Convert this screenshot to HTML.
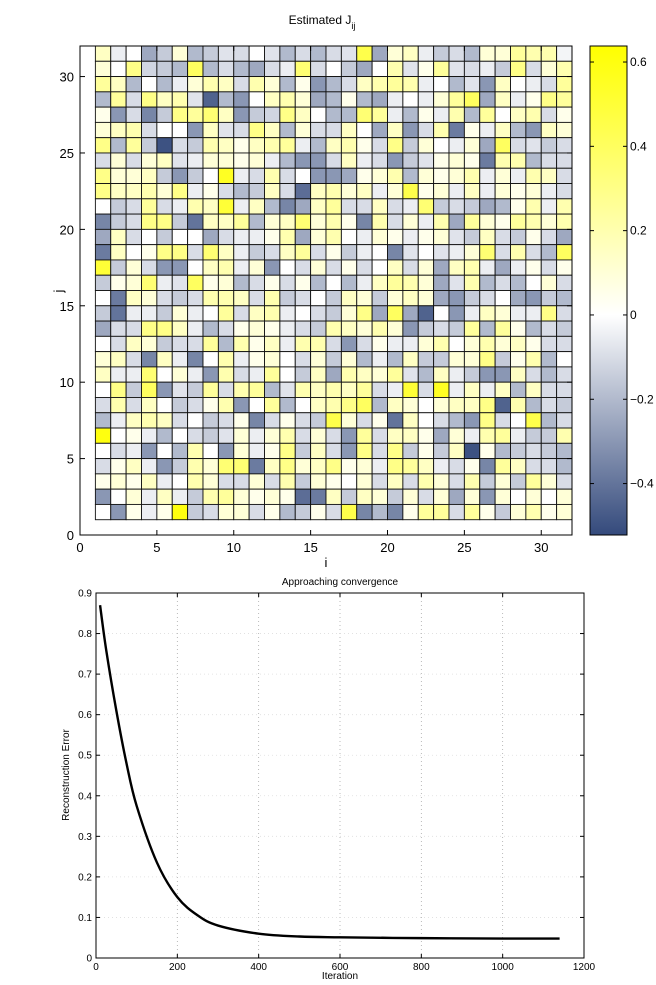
<!DOCTYPE html>
<html><head><meta charset="utf-8"><style>
html,body{margin:0;padding:0;background:#fff;}
svg{display:block;font-family:"Liberation Sans",sans-serif;}
</style></head><body>
<svg id="fig" width="656" height="985" viewBox="0 0 656 985" xmlns="http://www.w3.org/2000/svg">
<defs>
<linearGradient id="cbg" x1="0" y1="0" x2="0" y2="1">
<stop offset="0" stop-color="#ffff00"/>
<stop offset="0.55" stop-color="#ffffff"/>
<stop offset="1" stop-color="#344a7c"/>
</linearGradient>
</defs>
<g id="heat"></g>
<g id="line"></g>
</svg>
<script>
// Heatmap data: rows from j=31 (top) to j=1 (bottom), columns i=1..31
const heatRows = [
[.15,-.05,0,-.25,-.15,.1,-.2,-.15,-.08,-.1,0,-.08,-.2,-.1,-.2,-.1,-.08,.45,-.25,.1,.15,-.05,-.15,-.1,-.2,.1,.1,.25,.2,.2,-.03],
[.1,0,.3,-.12,-.15,-.2,.4,-.2,-.1,-.2,-.25,-.1,-.05,.35,-.1,0,-.15,-.25,0,.2,-.08,.05,.25,-.08,-.1,-.05,-.15,.3,-.1,.1,.2],
[.25,.15,-.2,0,-.2,-.05,.1,.2,.15,-.1,.2,.1,-.2,.05,-.3,-.2,-.1,.15,.2,.25,.2,-.05,0,-.2,-.08,-.3,.15,0,-.05,-.1,.25],
[-.2,.25,-.1,.3,.15,.2,-.08,-.45,-.2,-.3,0,.15,.2,.1,-.25,-.2,.05,-.2,-.25,-.05,0,-.05,.1,.25,.4,-.25,.15,-.05,.05,.3,.25],
[.05,-.3,-.1,-.35,-.15,.3,.25,.35,.15,-.3,-.15,-.12,.3,.15,0,-.2,-.2,.35,.25,-.05,-.2,.05,-.05,.2,-.2,.25,0,.15,.2,-.1,.05],
[.1,.15,.2,-.1,0,0,-.3,.15,-.08,-.1,.3,.15,-.2,.1,-.1,-.1,.15,0,-.25,.15,-.3,-.1,.2,-.38,.05,-.05,.15,-.2,-.3,.15,.1],
[.3,-.2,.25,-.15,-.5,-.1,-.15,.2,.15,.05,.15,.2,.25,-.05,-.2,.15,.2,.05,-.1,.3,-.15,.1,0,-.05,.1,-.25,.4,-.1,-.08,-.15,-.1],
[-.1,.1,-.1,.1,.15,-.08,-.05,.1,.1,.05,.1,-.05,-.2,-.3,-.3,-.1,.15,-.05,-.1,-.3,-.15,-.08,.05,.1,.05,-.38,.2,.2,-.2,-.1,-.1],
[.3,.1,.1,.15,-.15,-.3,-.15,0,.55,-.05,-.1,.2,-.1,0,-.3,-.3,-.25,.05,.1,.2,-.2,.1,.05,.1,.2,-.05,.1,-.05,.2,.15,-.1],
[.3,.15,.15,.2,.1,.3,-.05,.05,-.1,-.2,-.15,.15,-.1,-.42,.15,.2,.1,.15,-.05,.1,.45,.05,.1,-.05,.15,-.05,.1,.05,.1,-.05,-.1],
[0,-.15,-.1,.25,-.1,-.05,.2,.15,.5,-.05,.15,-.2,-.35,-.25,.15,.25,-.1,-.1,.15,-.1,-.05,.35,-.15,-.1,-.15,-.25,-.2,.05,.2,-.05,.2],
[-.35,-.15,-.1,.3,.3,-.15,-.4,.15,.15,.25,-.2,.1,.15,.35,.1,.2,.05,-.35,.2,-.1,.1,-.05,.2,-.25,.25,.1,.05,.25,.2,.1,.2],
[-.25,.15,-.1,0,-.15,0,0,-.25,-.1,-.05,-.05,.05,.2,-.25,.1,.2,0,-.05,.1,.05,-.05,.05,.1,-.08,-.15,.15,-.1,-.15,.05,-.1,-.25],
[-.38,.15,0,.05,.3,.3,-.1,.35,.15,-.05,-.15,-.1,.15,.25,-.1,.05,-.15,-.05,0,-.35,-.08,0,-.08,-.05,.1,.35,-.1,.2,-.1,-.2,.4],
[.5,-.15,.1,-.1,-.3,-.3,0,.15,.2,-.05,.1,-.3,0,-.1,.1,-.1,.05,-.1,0,.15,-.1,.1,-.25,.15,.2,-.05,-.25,-.05,.05,-.1,.05],
[-.15,.05,.1,.35,-.05,-.08,.4,.05,.1,-.2,-.1,.05,-.1,.05,-.2,0,-.2,-.05,.15,.25,.2,.1,-.25,-.08,.2,-.2,-.1,-.2,0,.1,-.1],
[0,-.38,.15,.1,-.1,-.15,-.1,.2,.2,.15,-.1,.2,-.15,-.1,0,-.15,.15,.1,-.15,.1,.15,.1,-.25,-.3,-.15,-.1,0,-.25,-.3,-.15,-.2],
[-.15,-.4,-.05,-.05,-.15,.1,-.05,0,.25,-.1,.15,.2,-.05,0,-.1,-.15,.1,.3,-.25,.4,-.25,-.45,0,-.3,-.05,.15,.1,-.05,-.05,.3,-.1],
[-.25,-.1,-.1,.3,.3,.15,-.05,-.2,-.1,.05,.1,.05,-.05,-.1,-.15,.2,.15,.1,.2,.1,-.3,-.15,-.1,-.15,.25,-.2,.25,.05,-.2,-.1,-.15],
[0,-.1,.15,.1,-.15,-.1,-.1,.25,-.2,.2,.05,.15,-.05,.2,.2,-.1,-.3,-.1,.05,-.05,-.05,.1,.2,0,.1,.2,.1,.15,.05,-.1,-.1],
[.1,.15,-.1,-.35,.15,-.05,-.35,0,.2,-.05,.05,.1,0,-.1,.1,-.15,.1,-.2,-.05,-.2,.15,-.15,-.15,.1,.1,.3,-.15,.05,.2,-.2,0],
[.15,-.05,-.05,.35,0,.1,-.05,-.3,.2,-.1,-.05,.25,0,-.15,.15,-.25,.2,.15,.1,.25,-.08,-.2,.15,-.05,-.15,-.3,-.3,.15,-.1,-.2,-.1],
[0,.3,-.15,.4,-.3,-.08,-.15,.25,-.1,.2,.25,-.2,-.08,.2,.15,.2,.15,.25,-.1,-.05,.5,-.1,.55,-.05,.15,-.05,.15,-.2,.15,-.1,-.1],
[-.1,.2,-.1,.15,0,-.15,-.1,.05,.2,-.3,0,.25,-.2,0,.15,.2,.3,.4,-.2,.15,.1,0,.1,.15,.15,.3,-.45,.2,-.2,-.1,-.15],
[-.2,-.05,.15,.2,.15,-.1,0,-.15,-.1,.05,-.35,-.1,.05,-.1,-.15,.45,.1,-.1,.05,-.4,.15,0,-.1,-.2,-.3,.3,-.1,0,.45,-.2,-.1],
[.6,0,.05,-.05,-.2,0,-.1,-.15,-.08,.1,-.05,.1,.2,-.1,.1,-.1,-.3,.25,-.1,.15,.15,.05,-.25,.1,-.05,.2,.25,-.05,-.15,-.15,.2],
[0,-.1,-.05,-.3,0,-.2,.2,0,-.3,.1,-.05,.05,.3,-.15,.15,-.1,-.3,.3,-.1,.3,-.15,.05,-.15,.15,-.5,.05,-.2,-.15,-.1,-.15,-.2],
[-.1,.05,.15,-.05,-.3,-.15,.2,.1,.35,.35,-.38,.15,.3,.1,.15,.3,.05,.1,-.05,.3,.25,.15,-.05,-.1,.05,-.35,.25,.15,-.1,-.1,-.2],
[.05,.1,.05,.15,-.05,0,.2,.1,-.1,-.1,.1,-.1,.2,-.15,.1,.05,0,.1,-.1,.15,-.1,.2,.1,-.1,.2,-.15,.1,-.15,.25,.1,-.1],
[-.3,0,.1,-.05,.15,-.05,-.15,.2,.25,.1,.05,.1,.05,-.42,-.38,.15,-.15,.15,.1,-.15,.1,-.1,.1,-.25,.1,-.3,.1,0,.1,0,.1],
[0,-.3,.05,-.05,.05,.6,-.15,-.1,.1,.1,-.1,.05,-.2,-.15,.05,-.1,.45,-.35,-.2,-.35,.05,.25,.25,-.1,.25,.05,-.15,.1,.2,.05,.1]
];
const heatTicks = [0,5,10,15,20,25,30];
const cbTicks = [0.6,0.4,0.2,0,-0.2,-0.4];
const cbTickLabels = ["0.6","0.4","0.2","0","\u22120.2","\u22120.4"];
// Line chart data
const iterations = [10,25,50,75,100,150,200,250,300,400,500,600,800,1000,1140];
const errors = [0.87,0.76,0.61,0.48,0.375,0.235,0.15,0.105,0.08,0.06,0.053,0.051,0.049,0.048,0.048];
const xTicks = [0,200,400,600,800,1000,1200];
const yTicks = [0,0.1,0.2,0.3,0.4,0.5,0.6,0.7,0.8,0.9];

const NS = "http://www.w3.org/2000/svg";
function mk(parent, tag, attrs, text){
  const e = document.createElementNS(NS, tag);
  for (const k in attrs) e.setAttribute(k, attrs[k]);
  if (text !== undefined) e.textContent = text;
  parent.appendChild(e);
  return e;
}

// ---------- Heatmap ----------
const H = document.getElementById('heat');
const AX = {x0:80, x1:572, y0:535, y1:46, vmin:0, vmax:32};
const hx = v => AX.x0 + (v - AX.vmin) / (AX.vmax - AX.vmin) * (AX.x1 - AX.x0);
const hy = v => AX.y0 - (v - AX.vmin) / (AX.vmax - AX.vmin) * (AX.y0 - AX.y1);
const CMIN = -0.522, CMAX = 0.638;
function color(v){
  let r,g,b;
  if (v >= 0){ const t = Math.min(1, v / CMAX); r = 255; g = 255; b = Math.round(255*(1-t)); }
  else { const t = Math.min(1, v / CMIN); r = Math.round(255 + (52-255)*t); g = Math.round(255 + (74-255)*t); b = Math.round(255 + (124-255)*t); }
  return `rgb(${r},${g},${b})`;
}
mk(H,'rect',{x:AX.x0,y:AX.y1,width:AX.x1-AX.x0,height:AX.y0-AX.y1,fill:'#fff',stroke:'none'});
const nRows = heatRows.length;
heatRows.forEach((row, ri) => {
  const j = nRows - ri;
  row.forEach((v, ci) => {
    const i = ci + 1;
    const c = mk(H,'rect',{x:hx(i),y:hy(j+1),width:hx(i+1)-hx(i),height:hy(j)-hy(j+1),fill:color(v),stroke:'#111','stroke-width':0.9});
    
    
  });
});
const hframe = mk(H,'rect',{x:AX.x0,y:AX.y1,width:AX.x1-AX.x0,height:AX.y0-AX.y1,fill:'none',stroke:'#000','stroke-width':1});


heatTicks.forEach(t => {
  mk(H,'line',{x1:hx(t),x2:hx(t),y1:AX.y0,y2:AX.y0-5,stroke:'#000'});
  mk(H,'line',{x1:hx(t),x2:hx(t),y1:AX.y1,y2:AX.y1+5,stroke:'#000'});
  const xl = mk(H,'text',{x:hx(t),y:AX.y0+17,'font-size':13,'text-anchor':'middle'}, String(t));
  
  
  mk(H,'line',{x1:AX.x0,x2:AX.x0+5,y1:hy(t),y2:hy(t),stroke:'#000'});
  mk(H,'line',{x1:AX.x1,x2:AX.x1-5,y1:hy(t),y2:hy(t),stroke:'#000'});
  const yl = mk(H,'text',{x:AX.x0-6,y:hy(t)+5,'font-size':13,'text-anchor':'end'}, String(t));
  
  
});
const ht = mk(H,'text',{x:322,y:24,'font-size':12,'text-anchor':'middle'});


ht.innerHTML = 'Estimated J<tspan font-size="9" dy="5">ij</tspan>';
const xt = mk(H,'text',{x:326,y:567,'font-size':13,'text-anchor':'middle'}, 'i');


const yt = mk(H,'text',{x:0,y:0,'font-size':13,'text-anchor':'middle',transform:'translate(63,291) rotate(-90)'}, 'j');


// colorbar
const CB = {x:590, w:37, y0:535, y1:46};
const cy = v => CB.y0 - (v - CMIN) / (CMAX - CMIN) * (CB.y0 - CB.y1);
const cbr = mk(H,'rect',{x:CB.x,y:CB.y1,width:CB.w,height:CB.y0-CB.y1,fill:'url(#cbg)',stroke:'#000'});


cbTicks.forEach((t, k) => {
  mk(H,'line',{x1:CB.x,x2:CB.x+4,y1:cy(t),y2:cy(t),stroke:'#000'});
  mk(H,'line',{x1:CB.x+CB.w,x2:CB.x+CB.w-4,y1:cy(t),y2:cy(t),stroke:'#000'});
  const cl = mk(H,'text',{x:CB.x+CB.w+3,y:cy(t)+4,'font-size':12}, cbTickLabels[k]);
  
  
});

// ---------- Line chart ----------
const L = document.getElementById('line');
const LA = {x0:96, x1:584, y0:958, y1:593, xmax:1200, ymax:0.9};
const lx = v => LA.x0 + v / LA.xmax * (LA.x1 - LA.x0);
const ly = v => LA.y0 - v / LA.ymax * (LA.y0 - LA.y1);
mk(L,'rect',{x:LA.x0,y:LA.y1,width:LA.x1-LA.x0,height:LA.y0-LA.y1,fill:'#fff'});
xTicks.forEach(t => {
  if (t > 0 && t < LA.xmax) mk(L,'line',{x1:lx(t),x2:lx(t),y1:LA.y0,y2:LA.y1,stroke:'#aaa','stroke-dasharray':'1,3','stroke-width':0.8});
  mk(L,'line',{x1:lx(t),x2:lx(t),y1:LA.y0,y2:LA.y0-4,stroke:'#000'});
  mk(L,'line',{x1:lx(t),x2:lx(t),y1:LA.y1,y2:LA.y1+4,stroke:'#000'});
  const tl = mk(L,'text',{x:lx(t),y:LA.y0+12,'font-size':10,'text-anchor':'middle'}, String(t));
  
  
});
yTicks.forEach(t => {
  if (t > 0 && t < LA.ymax) mk(L,'line',{x1:LA.x0,x2:LA.x1,y1:ly(t),y2:ly(t),stroke:'#ddd','stroke-dasharray':'1,3','stroke-width':0.8});
  mk(L,'line',{x1:LA.x0,x2:LA.x0+4,y1:ly(t),y2:ly(t),stroke:'#000'});
  mk(L,'line',{x1:LA.x1,x2:LA.x1-4,y1:ly(t),y2:ly(t),stroke:'#000'});
  const tl = mk(L,'text',{x:LA.x0-4,y:ly(t)+3.5,'font-size':10,'text-anchor':'end'}, String(t));
  
  
});
const lframe = mk(L,'rect',{x:LA.x0,y:LA.y1,width:LA.x1-LA.x0,height:LA.y0-LA.y1,fill:'none',stroke:'#000'});


const pts = iterations.map((it, k) => [lx(it), ly(errors[k])]);
let d = `M${pts[0][0]},${pts[0][1]}`;
for (let k = 0; k < pts.length - 1; k++){
  const p0 = pts[k-1] || pts[k], p1 = pts[k], p2 = pts[k+1], p3 = pts[k+2] || pts[k+1];
  const c1 = [p1[0] + (p2[0]-p0[0])/6, p1[1] + (p2[1]-p0[1])/6];
  const c2 = [p2[0] - (p3[0]-p1[0])/6, p2[1] - (p3[1]-p1[1])/6];
  d += ` C${c1[0]},${c1[1]} ${c2[0]},${c2[1]} ${p2[0]},${p2[1]}`;
}
const ln = mk(L,'path',{d:d,fill:'none',stroke:'#000','stroke-width':2.4});


const lt = mk(L,'text',{x:340,y:585,'font-size':10,'text-anchor':'middle'}, 'Approaching convergence');


const lxt = mk(L,'text',{x:340,y:979,'font-size':10,'text-anchor':'middle'}, 'Iteration');


const lyt = mk(L,'text',{x:0,y:0,'font-size':10,'text-anchor':'middle',transform:'translate(69,775) rotate(-90)'}, 'Reconstruction Error');


</script>
</body></html>
